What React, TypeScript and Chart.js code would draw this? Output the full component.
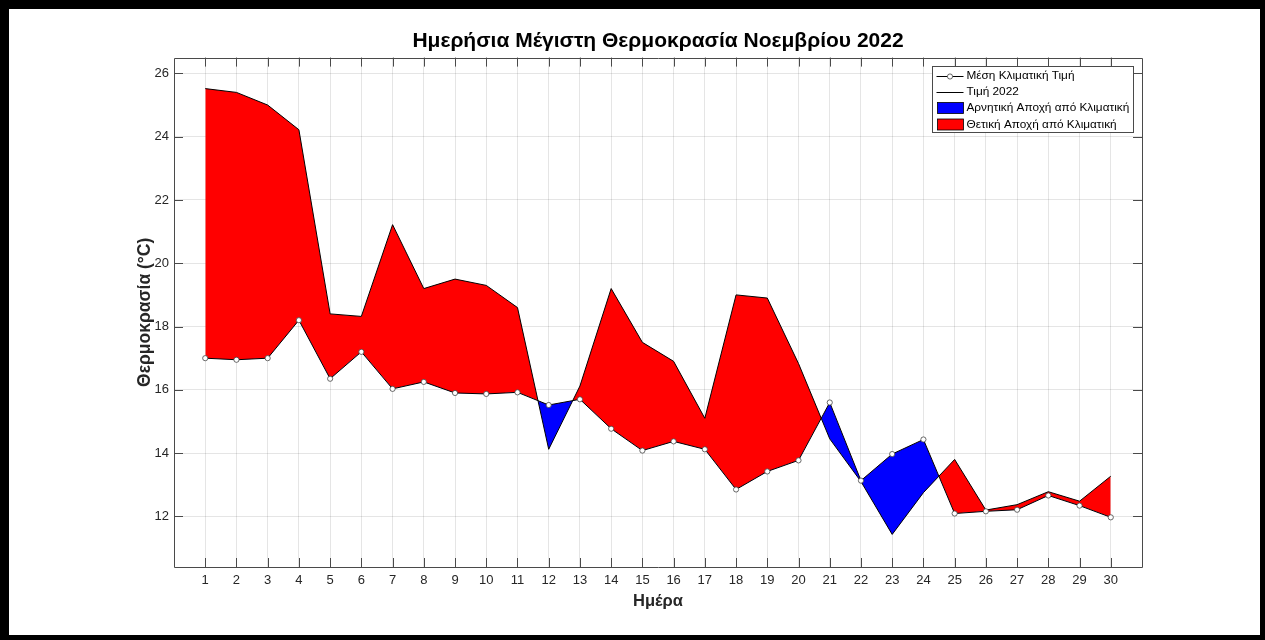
import React, { useEffect, useRef } from "react";
import { Chart, registerables } from "chart.js";

Chart.register(...registerables);

// ---- Data ----
const days = [
  1, 2, 3, 4, 5, 6, 7, 8, 9, 10, 11, 12, 13, 14, 15, 16, 17, 18, 19, 20, 21, 22, 23, 24, 25, 26, 27, 28, 29, 30,
];
const climateMean = [
  17.0, 16.95, 17.0, 18.2, 16.35, 17.2, 16.03, 16.25, 15.9, 15.87, 15.92, 15.52, 15.7, 14.77, 14.08, 14.37, 14.12,
  12.85, 13.42, 13.77, 15.6, 13.13, 13.97, 14.43, 12.09, 12.16, 12.21, 12.66, 12.34, 11.97,
];
const value2022 = [
  25.52, 25.4, 25.0, 24.22, 18.4, 18.32, 21.22, 19.2, 19.5, 19.3, 18.6, 14.12, 16.12, 19.2, 17.5, 16.9, 15.1, 19.0,
  18.9, 16.83, 14.45, 13.1, 11.43, 12.75, 13.8, 12.2, 12.37, 12.78, 12.48, 13.27,
];
const xTicks = days;
const yTicks = [12, 14, 16, 18, 20, 22, 24, 26];
const titleText = "Ημερήσια Μέγιστη Θερμοκρασία Νοεμβρίου 2022";
const xTitle = "Ημέρα";
const yTitle = "Θερμοκρασία (°C)";
const legendLabels = [
  "Μέση Κλιματική Τιμή",
  "Τιμή 2022",
  "Αρνητική Αποχή από Κλιματική",
  "Θετική Αποχή από Κλιματική",
];

const FONT = '"Liberation Sans", Arial, Helvetica, sans-serif';
const AXIS_COLOR = "#4a4a4a";
const TEXT_COLOR = "#262626";
const GRID_COLOR = "rgba(38,38,38,0.12)";
const RED = "#ff0000";
const BLUE = "#0000ff";

const framePlugin = {
  id: "matlabFrame",
  afterDatasetsDraw(chart: any) {
    const { ctx, chartArea, scales } = chart;
    const { left, right, top, bottom } = chartArea;
    const xs = scales.x;
    const ys = scales.y;
    ctx.save();
    ctx.strokeStyle = AXIS_COLOR;
    ctx.lineWidth = 1;
    ctx.beginPath();
    ctx.rect(Math.round(left) + 0.5, Math.round(top) + 0.5, Math.round(right - left), Math.round(bottom - top));
    ctx.stroke();
    const tl = 9;
    ctx.beginPath();
    xTicks.forEach((v) => {
      const px = Math.round(xs.getPixelForValue(v)) + 0.5;
      ctx.moveTo(px, bottom);
      ctx.lineTo(px, bottom - tl);
      ctx.moveTo(px, top);
      ctx.lineTo(px, top + tl);
    });
    yTicks.forEach((v) => {
      const py = Math.round(ys.getPixelForValue(v)) + 0.5;
      ctx.moveTo(left, py);
      ctx.lineTo(left + tl, py);
      ctx.moveTo(right, py);
      ctx.lineTo(right - tl, py);
    });
    ctx.stroke();
    ctx.restore();
  },
  afterDraw(chart: any) {
    const { ctx, chartArea } = chart;
    const boxW = 201;
    const boxH = 66;
    const bx = Math.round(chartArea.right - 9 - boxW) + 0.5;
    const by = Math.round(chartArea.top + 8) + 0.5;
    ctx.save();
    ctx.fillStyle = "#ffffff";
    ctx.fillRect(bx, by, boxW, boxH);
    ctx.strokeStyle = AXIS_COLOR;
    ctx.lineWidth = 1;
    ctx.strokeRect(bx, by, boxW, boxH);
    const rows = [9, 25, 41.5, 58];
    const sx0 = bx + 4;
    const sx1 = bx + 31;
    ctx.font = `11.8px ${FONT}`;
    ctx.textBaseline = "middle";
    ctx.textAlign = "left";
    rows.forEach((ry, i) => {
      const y = by + ry;
      if (i < 2) {
        ctx.strokeStyle = "#000";
        ctx.lineWidth = 1;
        ctx.beginPath();
        ctx.moveTo(sx0, Math.round(y) + 0.5);
        ctx.lineTo(sx1, Math.round(y) + 0.5);
        ctx.stroke();
        if (i === 0) {
          ctx.beginPath();
          ctx.arc((sx0 + sx1) / 2, Math.round(y) + 0.5, 2.6, 0, Math.PI * 2);
          ctx.fillStyle = "#fff";
          ctx.fill();
          ctx.strokeStyle = "#444";
          ctx.lineWidth = 0.8;
          ctx.stroke();
        }
      } else {
        ctx.fillStyle = i === 2 ? BLUE : RED;
        ctx.fillRect(sx0 + 1, y - 5.5, sx1 - sx0 - 1, 11);
        ctx.strokeStyle = "#000";
        ctx.lineWidth = 0.8;
        ctx.strokeRect(sx0 + 1, y - 5.5, sx1 - sx0 - 1, 11);
      }
      ctx.fillStyle = "#000";
      ctx.fillText(legendLabels[i], bx + 34, y);
    });
    ctx.restore();
  },
};

export default function App() {
  const ref = useRef<HTMLCanvasElement | null>(null);

  useEffect(() => {
    if (!ref.current) return;
    const meanPts = days.map((d, i) => ({ x: d, y: climateMean[i] }));
    const valPts = days.map((d, i) => ({ x: d, y: value2022[i] }));
    const chart = new Chart(ref.current, {
      type: "line",
      data: {
        datasets: [
          {
            label: legendLabels[0],
            data: meanPts,
            borderColor: "#000",
            borderWidth: 1,
            pointRadius: 2.6,
            pointBackgroundColor: "#fff",
            pointBorderColor: "#444",
            pointBorderWidth: 0.8,
            fill: false,
            tension: 0,
            order: 0,
          },
          {
            label: legendLabels[1],
            data: valPts,
            borderColor: "#000",
            borderWidth: 1,
            pointRadius: 0,
            tension: 0,
            fill: { target: 0, above: RED, below: BLUE },
            order: 1,
          },
        ],
      },
      options: {
        responsive: false,
        animation: false,
        events: [],
        layout: { padding: { left: 120, right: 118, top: 0, bottom: 20 } },
        plugins: {
          legend: { display: false },
          tooltip: { enabled: false },
          filler: { drawTime: "beforeDatasetsDraw", propagate: false },
          title: {
            display: true,
            text: titleText,
            fullSize: false,
            color: "#000",
            font: { family: FONT, size: 21, weight: "bold" },
            padding: { top: 20, bottom: 3.4 },
          },
        },
        scales: {
          x: {
            type: "linear",
            min: 0,
            max: 31,
            afterBuildTicks: (s: any) => {
              s.ticks = xTicks.map((v) => ({ value: v }));
            },
            afterFit: (s: any) => {
              s.height = 48;
            },
            grid: { color: GRID_COLOR, drawTicks: false, lineWidth: 1 },
            border: { display: false },
            ticks: { padding: 6, color: TEXT_COLOR, font: { family: FONT, size: 13 }, maxRotation: 0, autoSkip: false },
            title: {
              display: true,
              text: xTitle,
              color: TEXT_COLOR,
              font: { family: FONT, size: 16.5, weight: "bold" },
              padding: { top: 0, bottom: 4 },
            },
          },
          y: {
            type: "linear",
            min: 10.4,
            max: 26.5,
            afterBuildTicks: (s: any) => {
              s.ticks = yTicks.map((v) => ({ value: v }));
            },
            afterFit: (s: any) => {
              s.width = 45;
            },
            grid: { color: GRID_COLOR, drawTicks: false, lineWidth: 1 },
            border: { display: false },
            ticks: { padding: 5, color: TEXT_COLOR, font: { family: FONT, size: 13 } },
            title: {
              display: true,
              text: yTitle,
              color: TEXT_COLOR,
              font: { family: FONT, size: 17.5, weight: "bold" },
              padding: { top: 5.5, bottom: 0 },
            },
          },
        },
      },
      plugins: [framePlugin],
    } as any);
    return () => chart.destroy();
  }, []);

  return (
    <div style={{ position: "fixed", left: 0, top: 0, width: 1265, height: 640, background: "#000" }}>
      <canvas
        ref={ref}
        width={1251}
        height={626}
        style={{ position: "absolute", left: 9, top: 9, width: 1251, height: 626, background: "#fff", display: "block" }}
      />
    </div>
  );
}
